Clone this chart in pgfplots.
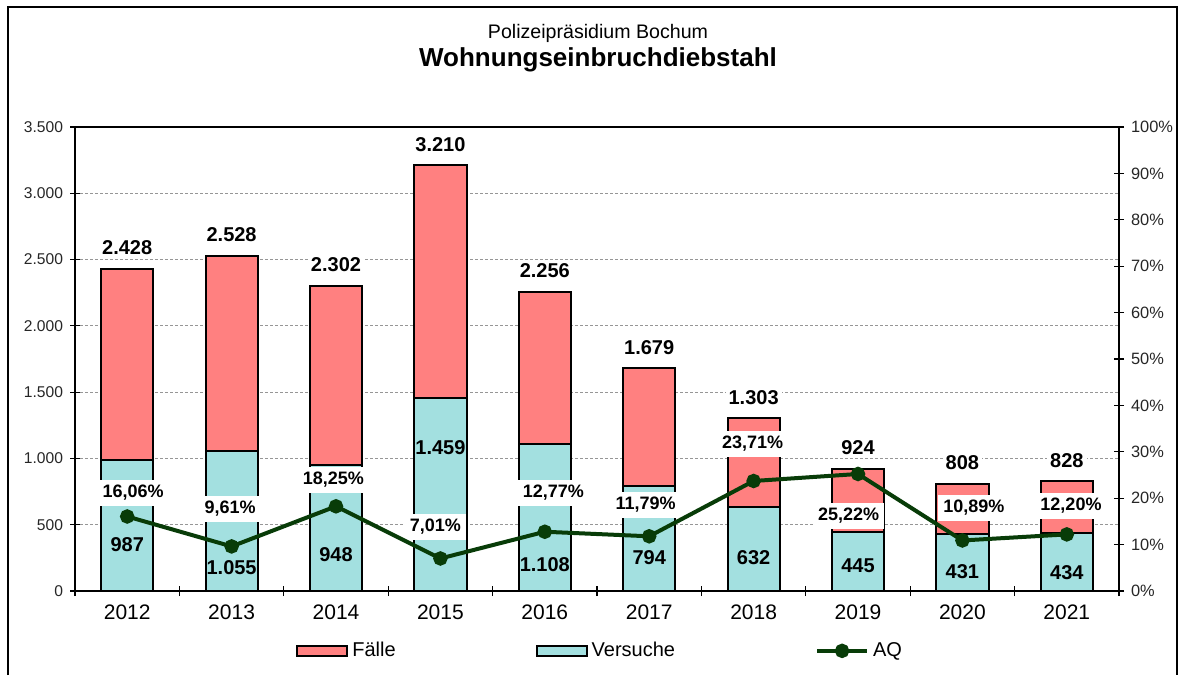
\documentclass[border=0pt]{standalone}
\usepackage{fontspec}
\setmainfont{Liberation Sans}
\usepackage{pgfplots}
\pgfplotsset{compat=1.18}

\definecolor{fallcol}{RGB}{255,128,128}
\definecolor{versuchcol}{RGB}{163,224,224}
\definecolor{aqcol}{RGB}{8,60,8}
\definecolor{gridcol}{RGB}{150,150,150}

\pgfplotsset{
  boxlegend/.style={legend image code/.code={\draw[##1] (0pt,-2.5pt) rectangle (25pt,2.5pt);}},
  linelegend/.style={legend image code/.code={\draw[mark repeat=2,mark phase=2,##1] plot coordinates {(0pt,0pt) (12.5pt,0pt) (25pt,0pt)};}},
}

\begin{document}
\begin{tikzpicture}
\path[use as bounding box] (0,0) rectangle (590.5pt,337.5pt);
\draw[line width=1pt] (3.75pt,0) -- (3.75pt,334pt) -- (588.25pt,334pt) -- (588.25pt,0);

\node[font=\fontsize{9.8}{11}\selectfont] at (299pt,321pt) {Polizeipräsidium Bochum};
\node[font=\fontsize{13}{15}\selectfont\bfseries] at (299pt,307.5pt) {Wohnungseinbruchdiebstahl};

\begin{axis}[
  at={(37.5pt,42pt)}, anchor=south west,
  scale only axis, width=522pt, height=232pt,
  xmin=-0.5, xmax=9.5, ymin=0, ymax=3500,
  xtick={-0.5,0.5,1.5,2.5,3.5,4.5,5.5,6.5,7.5,8.5,9.5},
  x tick label as interval,
  xticklabels={2012,2013,2014,2015,2016,2017,2018,2019,2020,2021},
  ytick={0,500,1000,1500,2000,2500,3000,3500},
  xtick pos=bottom, ytick pos=left,
  tick align=center, major tick length=5pt,
  tick style={black, line width=0.6pt},
  axis line style={black, line width=0.6pt},
  ymajorgrids, grid style={gridcol, dash pattern=on 1.5pt off 1pt, line width=0.5pt},
  /pgf/number format/.cd, fixed, precision=0, 1000 sep={.}, use comma, assume math mode=true,
  /pgfplots/.cd,
  x tick label style={font=\fontsize{10.5}{12}\selectfont, yshift=-1pt},
  y tick label style={font=\fontsize{7.8}{9}\selectfont, text=black!85},
  clip=false,
]
\addplot[ybar, bar width=0.5, bar shift=0pt, fill=fallcol, draw=black, line width=1pt,
  nodes near coords={\pgfmathprintnumber[fixed,precision=0,1000 sep={.},assume math mode=true]{\pgfplotspointmeta}},
  every node near coord/.append style={anchor=center, yshift=10.5pt, fill=white, inner sep=1.5pt,
    font=\fontsize{10}{12}\selectfont\bfseries, text=black}]
coordinates {(0,2428) (1,2528) (2,2302) (3,3210) (4,2256) (5,1679) (6,1303) (7,924) (8,808) (9,828)};
\addplot[ybar, bar width=0.5, bar shift=0pt, fill=versuchcol, draw=black, line width=1pt]
coordinates {(0,987) (1,1055) (2,948) (3,1459) (4,1108) (5,794) (6,632) (7,445) (8,431) (9,434)};

% Versuche-Beschriftungen
\begin{scope}[every node/.style={font=\fontsize{10}{12}\selectfont\bfseries, inner sep=1pt}]
\node at (axis cs:0,347) {987};
\node at (axis cs:1,173) {1.055};
\node at (axis cs:2,272) {948};
\node at (axis cs:3,1079) {1.459};
\node at (axis cs:4,196) {1.108};
\node at (axis cs:5,249) {794};
\node at (axis cs:6,249) {632};
\node at (axis cs:7,189) {445};
\node at (axis cs:8,143) {431};
\node at (axis cs:9,136) {434};
\end{scope}

% AQ-Beschriftungen
\begin{scope}[every node/.style={font=\fontsize{9}{10}\selectfont\bfseries, fill=white, inner sep=2.5pt}]
\node at (axis cs:0.056,739) {16,06\%};
\node at (axis cs:0.986,619) {9,61\%};
\node at (axis cs:1.974,837) {18,25\%};
\node at (axis cs:2.952,483) {7,01\%};
\node at (axis cs:4.083,739) {12,77\%};
\node at (axis cs:4.965,649) {11,79\%};
\node at (axis cs:5.991,1109) {23,71\%};
\node at (axis cs:6.911,566) {25,22\%};
\node at (axis cs:8.11,626) {10,89\%};
\node at (axis cs:9.04,641) {12,20\%};
\end{scope}
\end{axis}

\begin{axis}[
  at={(37.5pt,42pt)}, anchor=south west,
  scale only axis, width=522pt, height=232pt,
  xmin=-0.5, xmax=9.5, ymin=0, ymax=100,
  axis x line=none, axis y line*=right,
  ytick={0,10,20,30,40,50,60,70,80,90,100},
  yticklabel={\pgfmathprintnumber[assume math mode=true]{\tick}\%},
  tick align=center, major tick length=5pt,
  tick style={black, line width=0.6pt},
  axis line style={black, line width=0.6pt},
  y tick label style={font=\fontsize{8.2}{10}\selectfont, text=black!85},
  clip=false,
  legend columns=3,
  legend style={at={(0.504,-0.129)}, anchor=center, draw=none, fill=none,
    font=\fontsize{10}{12}\selectfont, /tikz/every even column/.append style={column sep=68pt}},
]
\addlegendimage{boxlegend, fill=fallcol, draw=black, line width=1pt}
\addlegendentry{Fälle}
\addlegendimage{boxlegend, fill=versuchcol, draw=black, line width=1pt}
\addlegendentry{Versuche}
\addplot[color=aqcol, line width=2pt, mark=*, mark size=2.6pt, linelegend]
coordinates {(0,16.06) (1,9.61) (2,18.25) (3,7.01) (4,12.77) (5,11.79) (6,23.71) (7,25.22) (8,10.89) (9,12.20)};
\addlegendentry{AQ}
\end{axis}
\end{tikzpicture}
\end{document}
